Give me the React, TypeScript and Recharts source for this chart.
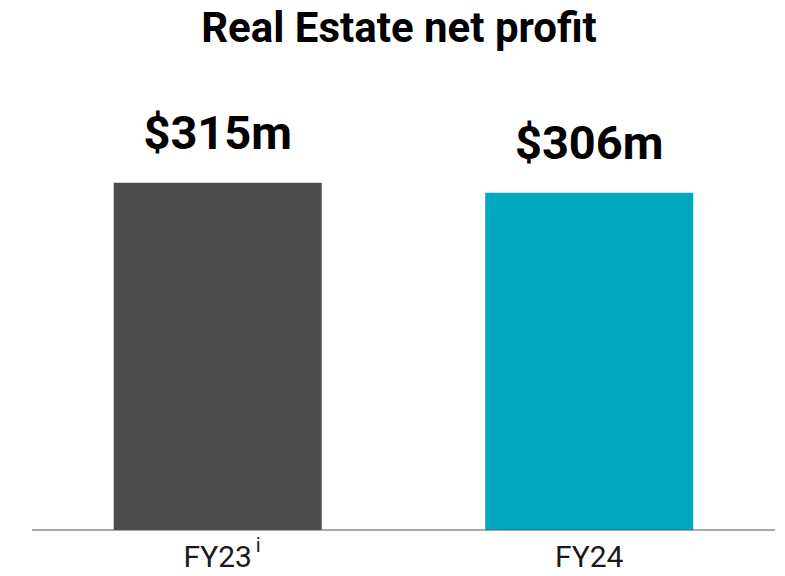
import { Bar, BarChart, Cell, LabelList, XAxis, YAxis } from "recharts";

const categories = ["FY23", "FY24"];
const footnotes = ["i", ""];
const netProfit = [315, 306];
const barColors = ["#4d4d4d", "#00a8c0"];

const data = categories.map((name, i) => ({
  name,
  note: footnotes[i],
  value: netProfit[i],
}));

const FONT = "Roboto, 'Noto Sans', sans-serif";

function CategoryTick(props: any) {
  const { x, y, payload, index } = props;
  const note = footnotes[index] ?? "";
  return (
    <g>
      <text
        x={x}
        y={y}
        dy="0.7em"
        textAnchor="middle"
        fontFamily={FONT}
        fontSize={30}
        fill="#1a1a1a"
      >
        {payload.value}
      </text>
      {note && (
        <text
          x={x + 38}
          y={y}
          dy="0.3em"
          textAnchor="start"
          fontFamily={FONT}
          fontSize={20}
          fill="#1a1a1a"
        >
          {note}
        </text>
      )}
    </g>
  );
}

export default function App() {
  return (
    <div
      style={{
        position: "absolute",
        left: 0,
        top: 0,
        width: 785,
        height: 576,
        background: "#fff",
        fontFamily: FONT,
      }}
    >
      <div
        style={{
          position: "absolute",
          top: 3,
          left: 0,
          width: 798,
          textAlign: "center",
          fontSize: 42,
          fontWeight: 700,
          color: "#000",
          lineHeight: "normal",
        }}
      >
        Real Estate net profit
      </div>
      <BarChart
        width={785}
        height={576}
        data={data}
        margin={{ top: 89, right: 10, bottom: 0, left: 32 }}
        barCategoryGap="22%"
      >
        <YAxis hide domain={[0, 400]} />
        <XAxis
          dataKey="name"
          tickLine={false}
          tickSize={0}
          tickMargin={16}
          height={46}
          axisLine={{ stroke: "#555", strokeWidth: 1 }}
          tick={<CategoryTick />}
          interval={0}
        />
        <Bar dataKey="value" isAnimationActive={false}>
          {data.map((d, i) => (
            <Cell key={d.name} fill={barColors[i]} />
          ))}
          <LabelList
            dataKey="value"
            position="top"
            offset={34}
            formatter={(v: any) => `$${v}m`}
            style={{
              fontFamily: FONT,
              fontSize: 47,
              fontWeight: 700,
              fill: "#000",
            }}
          />
        </Bar>
      </BarChart>
    </div>
  );
}
